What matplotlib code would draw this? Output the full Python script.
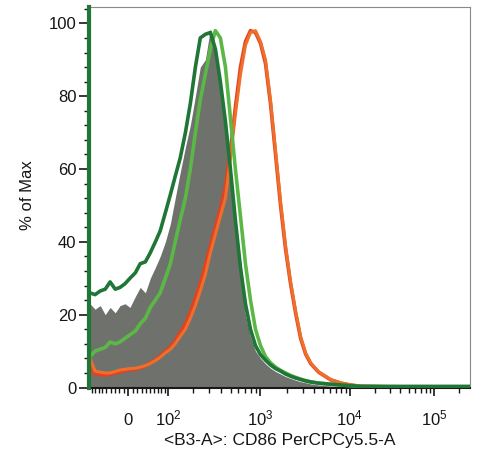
import numpy as np
import matplotlib
matplotlib.use("Agg")
import matplotlib.pyplot as plt
from matplotlib.ticker import FixedLocator, MultipleLocator, NullFormatter

# ---------------- data ----------------
intensity = [-95, -80, -66, -53, -41, -29, -18, -7, 4, 16, 27, 39, 51, 64, 77, 92,
             108, 125, 144, 166, 189, 215, 243, 275, 311, 350, 394, 444, 499, 560, 630, 707,
             794, 891, 1000, 1138, 1295, 1476, 1680, 1912, 2175, 2475, 2818, 3206, 3648, 4487,
             6118, 7922, 10000, 13520, 40400, 100000, 262000]

dark_green = [26, 25.5, 26.5, 27, 29, 27, 27.5, 28.5, 30, 31.5, 34, 34.5, 37, 40, 43, 48,
              53, 58, 63, 70, 78, 88, 96, 97, 97.5, 93, 84, 73, 60, 46, 33, 23,
              16, 11.5, 9, 7.5, 6.2, 5.2, 4.5, 3.7, 3.1, 2.6, 2.2, 1.8, 1.5, 1.2,
              0.9, 0.7, 0.5, 0.3, 0.3, 0.3, 0.3]

light_green = [8.5, 10, 10.5, 11, 12.5, 12, 12.5, 13.5, 14.5, 15.5, 17.5, 19, 22, 24, 26, 30,
               34, 40, 46, 52, 60, 70, 79, 86, 93, 98, 96, 88, 74, 60, 47, 34,
               24, 16, 11.5, 8.5, 6.8, 5.6, 4.7, 4, 3.3, 2.8, 2.3, 1.9, 1.6, 1.2,
               0.9, 0.7, 0.5, 0.3, 0.2, 0.2, 0.2]

gray_fill = [23, 21.5, 22.5, 20, 22, 20.5, 22.5, 23, 22, 25, 27.5, 26, 30, 33, 36, 40,
             45, 52, 59, 66, 72, 80, 88, 90, 98.5, 93, 83, 70, 56, 43, 30, 20,
             14, 10, 8, 6.5, 5.3, 4.4, 3.7, 3, 2.5, 2, 1.6, 1.3, 1, 0.7,
             0.4, 0.3, 0.2, 0.1, 0, 0, 0]

orange = [8, 4.5, 4.2, 4, 4, 4.4, 4.8, 5, 5.2, 5.3, 5.6, 6, 6.6, 7.4, 8.3, 9.5,
          10.5, 12, 14, 16, 19, 22.5, 26.5, 31, 37, 42, 47, 52, 63, 75, 86, 94,
          97.5, 98, 95, 90, 79, 65, 51, 39, 29, 21, 14, 9.5, 6.8, 4.3,
          2.2, 1.3, 0.8, 0.4, 0.2, 0.2, 0.2]

red = [5, 3.8, 3.5, 3.4, 3.6, 4.0, 4.2, 4.6, 4.9, 5.0, 5.4, 5.9, 6.7, 7.6, 8.6, 9.9,
       11, 12.8, 15, 17.5, 20.5, 24.5, 28.5, 33.5, 39, 44, 49, 55, 65, 77, 88, 95,
       98, 97.5, 94.5, 89, 78, 64, 50, 38, 28.5, 20.5, 13.5, 9.2, 6.6, 4.2,
       2.1, 1.2, 0.7, 0.3, 0.1, 0.1, 0.1]

x_major = [0, 100, 1000, 10000, 100000]
x_major_labels = ["0", r"$\mathregular{10^2}$", r"$\mathregular{10^3}$",
                  r"$\mathregular{10^4}$", r"$\mathregular{10^5}$"]
x_label = "<B3-A>: CD86 PerCPCy5.5-A"
y_label = "% of Max"

# ---------------- style ----------------
plt.rcParams["font.family"] = ["Liberation Sans", "DejaVu Sans"]
plt.rcParams["mathtext.fontset"] = "custom"
plt.rcParams["mathtext.rm"] = "Liberation Sans"
plt.rcParams["mathtext.it"] = "Liberation Sans:italic"
plt.rcParams["mathtext.bf"] = "Liberation Sans:bold"

C_DG = "#1f7636"
C_LG = "#5cb846"
C_OR = "#ef6e2b"
C_RD = "#e2421f"
C_GR = "#6f716d"
TXT = "#161616"

# biexponential-like display scale (asinh based, piecewise calibrated)
_cal_v = np.array([0.0, 100.0, 1000.0, 10000.0, 100000.0])
_cal_s = np.arcsinh(_cal_v / 100.0)
_cal_u = np.array([128.0, 167.7, 260.0, 349.0, 433.0])
_sl0 = (_cal_u[1] - _cal_u[0]) / (_cal_s[1] - _cal_s[0])
_sl1 = (_cal_u[-1] - _cal_u[-2]) / (_cal_s[-1] - _cal_s[-2])


def fwd(x):
    s = np.arcsinh(np.asarray(x, dtype=float) / 100.0)
    u = np.interp(s, _cal_s, _cal_u)
    u = np.where(s < _cal_s[0], _cal_u[0] + (s - _cal_s[0]) * _sl0, u)
    u = np.where(s > _cal_s[-1], _cal_u[-1] + (s - _cal_s[-1]) * _sl1, u)
    return u


def inv(u):
    u = np.asarray(u, dtype=float)
    s = np.interp(u, _cal_u, _cal_s)
    s = np.where(u < _cal_u[0], _cal_s[0] + (u - _cal_u[0]) / _sl0, s)
    s = np.where(u > _cal_u[-1], _cal_s[-1] + (u - _cal_u[-1]) / _sl1, s)
    return 100.0 * np.sinh(s)


W, H = 483, 455
fig = plt.figure(figsize=(W / 100, H / 100), dpi=100)
ax = fig.add_axes([89 / W, 1 - 387.5 / H, 381 / W, 380.5 / H])
ax.set_xscale("function", functions=(fwd, inv))

ax.fill_between(intensity, 0, gray_fill, color=C_GR, lw=0, zorder=1)
ax.plot(intensity, red, color=C_RD, lw=2.6, zorder=2.9, solid_joinstyle="round")
ax.plot(intensity, orange, color=C_OR, lw=2.2, zorder=3, solid_joinstyle="round")
ax.plot(intensity, light_green, color=C_LG, lw=2.6, zorder=4, solid_joinstyle="round")
ax.plot(intensity, dark_green, color=C_DG, lw=2.6, zorder=5, solid_joinstyle="round")

ax.set_xlim(-98, 268000)
ax.set_ylim(0, 104.5)

# ticks
ax.set_xticks(x_major, x_major_labels, va="baseline")
minor = ([-v for v in range(10, 100, 10)] + list(range(10, 100, 10)) +
         [m * 10 ** e for e in (2, 3, 4) for m in range(2, 10)] + [200000])
ax.xaxis.set_minor_locator(FixedLocator(minor))
ax.xaxis.set_minor_formatter(NullFormatter())
ax.yaxis.set_major_locator(MultipleLocator(20))
ax.yaxis.set_minor_locator(MultipleLocator(4))

ax.tick_params(axis="x", which="major", direction="out", length=6, width=1.2,
               pad=21, labelsize=12, colors=TXT)
ax.tick_params(axis="x", which="minor", direction="out", length=3.5, width=1.0, colors=TXT)
ax.tick_params(axis="y", which="major", direction="out", length=7, width=1.2,
               pad=2, labelsize=12, colors=TXT)
ax.tick_params(axis="y", which="minor", direction="out", length=3.5, width=1.0, colors=TXT)

for sp in ("top", "right"):
    ax.spines[sp].set_color("#8a8a8a")
    ax.spines[sp].set_linewidth(0.8)
ax.spines["bottom"].set_color("#1a1a1a")
ax.spines["bottom"].set_linewidth(1.5)
ax.spines["left"].set_color(C_DG)
ax.spines["left"].set_linewidth(3)
ax.spines["left"].set_zorder(6)

ax.set_xlabel(x_label, fontsize=12.5, color=TXT, va="center")
ax.xaxis.set_label_coords(0.5, (387.5 - 440) / 380.5)
ax.set_ylabel(y_label, fontsize=12, color=TXT, va="center")
ax.yaxis.set_label_coords((27 - 89) / 381, (387.5 - 195) / 380.5)

fig.savefig("out.png", dpi=100)
